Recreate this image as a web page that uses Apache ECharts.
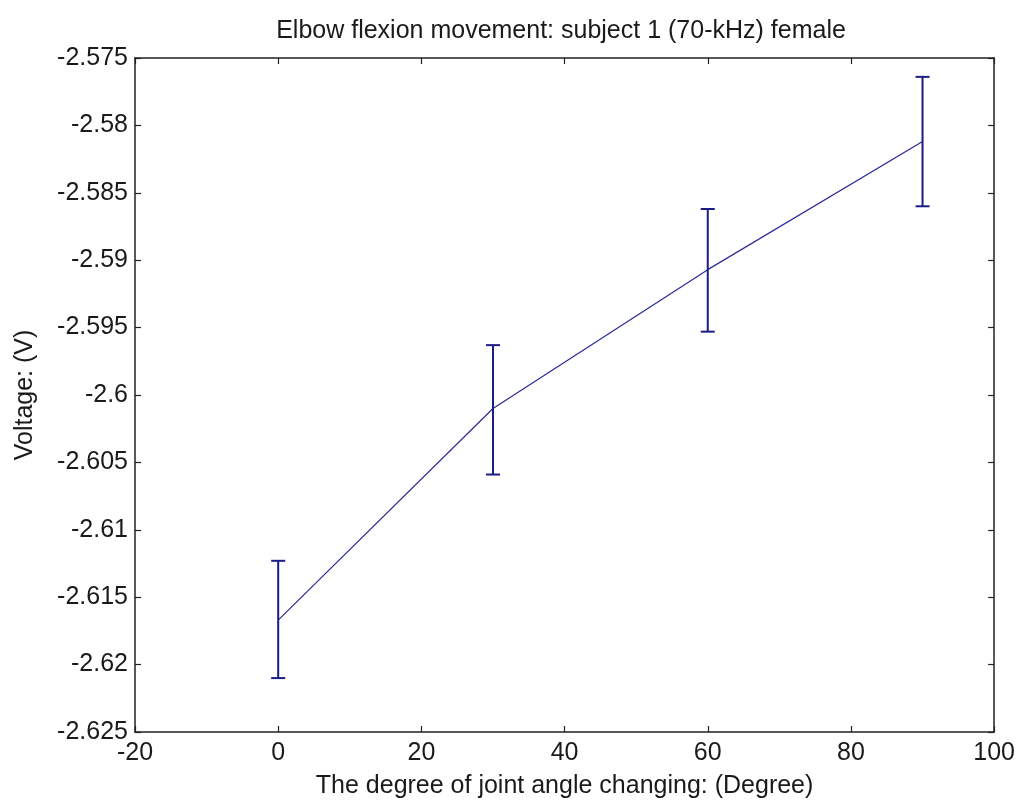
<!DOCTYPE html>
<html>
<head>
<meta charset="utf-8">
<script src="https://cdn.jsdelivr.net/npm/echarts@6/dist/echarts.min.js"></script>
<style>
  html, body { margin: 0; padding: 0; background: #ffffff; }
  #chart { width: 1018px; height: 804px; }
</style>
</head>
<body>
<div id="chart"></div>
<script>
// Joint angle (degrees) and measured voltage with spread
const angles = [0, 30, 60, 90];
const meanVoltage = [-2.6167, -2.6010, -2.5907, -2.5812];
const upperVoltage = [-2.6123, -2.5963, -2.5862, -2.5764];
const lowerVoltage = [-2.6210, -2.6059, -2.5953, -2.5860];

const xTicks = { min: -20, max: 100, interval: 20 };
const yTicks = { min: -2.625, max: -2.575, interval: 0.005 };

const FONT = 'Liberation Sans, Arial, sans-serif';
const TEXT_COLOR = '#1a1a1a';
const AXIS_COLOR = '#222222';
const LINE_COLOR = '#2a2a9a';
const BAR_COLOR = '#1c1c86';

const chart = echarts.init(document.getElementById('chart'), null, { renderer: 'canvas' });

const linePoints = angles.map((a, i) => [a, meanVoltage[i]]);
const barData = angles.map((a, i) => [a, lowerVoltage[i], upperVoltage[i]]);

function yLabel(v) {
  return (Math.round(v * 1000) / 1000).toString();
}

const baseAxisLine = { show: true, onZero: false, lineStyle: { color: AXIS_COLOR, width: 1.5 } };
const innerTick = { show: true, inside: true, length: 6, lineStyle: { color: AXIS_COLOR, width: 1.2 } };

chart.setOption({
  animation: false,
  backgroundColor: '#ffffff',
  title: {
    text: 'Elbow flexion movement: subject 1 (70-kHz) female',
    left: 556,
    top: 14,
    textAlign: 'center',
    textStyle: { fontFamily: FONT, fontSize: 25, fontWeight: 'normal', color: TEXT_COLOR }
  },
  grid: { left: 135, right: 23, top: 58, bottom: 70, containLabel: false },
  xAxis: [
    {
      type: 'value', min: xTicks.min, max: xTicks.max, interval: xTicks.interval,
      position: 'bottom',
      axisLine: baseAxisLine, axisTick: innerTick,
      splitLine: { show: false },
      axisLabel: { color: TEXT_COLOR, fontFamily: FONT, fontSize: 25, margin: 9 },
      name: 'The degree of joint angle changing: (Degree)',
      nameLocation: 'middle', nameGap: 42,
      nameTextStyle: { color: TEXT_COLOR, fontFamily: FONT, fontSize: 25 }
    },
    {
      type: 'value', min: xTicks.min, max: xTicks.max, interval: xTicks.interval,
      position: 'top',
      axisLine: baseAxisLine, axisTick: innerTick,
      splitLine: { show: false }, axisLabel: { show: false }
    }
  ],
  yAxis: [
    {
      type: 'value', min: yTicks.min, max: yTicks.max, interval: yTicks.interval,
      position: 'left',
      axisLine: baseAxisLine, axisTick: innerTick,
      splitLine: { show: false },
      axisLabel: { color: TEXT_COLOR, fontFamily: FONT, fontSize: 25, margin: 7, formatter: yLabel },
      name: 'Voltage: (V)',
      nameLocation: 'middle', nameGap: 97, nameRotate: 90,
      nameTextStyle: { color: TEXT_COLOR, fontFamily: FONT, fontSize: 25 }
    },
    {
      type: 'value', min: yTicks.min, max: yTicks.max, interval: yTicks.interval,
      position: 'right',
      axisLine: baseAxisLine, axisTick: innerTick,
      splitLine: { show: false }, axisLabel: { show: false }
    }
  ],
  series: [
    {
      type: 'line',
      data: linePoints,
      xAxisIndex: 0, yAxisIndex: 0,
      showSymbol: false,
      lineStyle: { color: LINE_COLOR, width: 1.2 },
      z: 3
    },
    {
      type: 'custom',
      xAxisIndex: 0, yAxisIndex: 0,
      data: barData,
      encode: { x: 0, y: [1, 2] },
      renderItem: function (params, api) {
        const x = api.value(0);
        const lo = api.coord([x, api.value(1)]);
        const hi = api.coord([x, api.value(2)]);
        const half = 7;
        const style = { stroke: BAR_COLOR, lineWidth: 2 };
        return {
          type: 'group',
          children: [
            { type: 'line', shape: { x1: lo[0], y1: lo[1], x2: hi[0], y2: hi[1] }, style: style },
            { type: 'line', shape: { x1: lo[0] - half, y1: lo[1], x2: lo[0] + half, y2: lo[1] }, style: style },
            { type: 'line', shape: { x1: hi[0] - half, y1: hi[1], x2: hi[0] + half, y2: hi[1] }, style: style }
          ]
        };
      },
      z: 4
    }
  ]
});
</script>
</body>
</html>
